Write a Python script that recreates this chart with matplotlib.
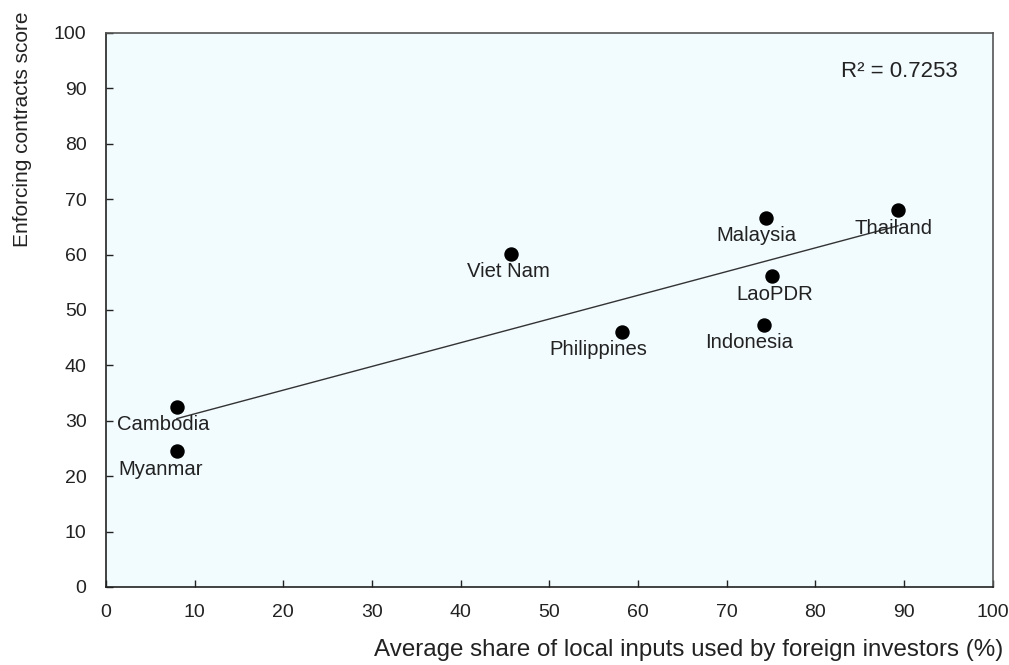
import numpy as np
import matplotlib
matplotlib.use("Agg")
import matplotlib.pyplot as plt

plt.rcParams['font.family'] = ['Liberation Sans', 'DejaVu Sans']

# data
countries = ['Cambodia', 'Myanmar', 'Viet Nam', 'Philippines',
             'Malaysia', 'Thailand', 'LaoPDR', 'Indonesia']
local_inputs = [8.0, 8.0, 45.7, 58.2, 74.4, 89.3, 75.1, 74.2]
contracts_score = [32.5, 24.5, 60.1, 46.0, 66.6, 68.0, 56.1, 47.3]
r2_text = 'R² = 0.7253'

# label offsets (points) relative to each marker
offsets = {
    'Cambodia': (-10, -6), 'Myanmar': (-12, -6), 'Viet Nam': (-2, -6),
    'Philippines': (-17, -6), 'Malaysia': (-7, -6), 'Thailand': (-3, -6),
    'LaoPDR': (2, -6), 'Indonesia': (-11, -6),
}

fig = plt.figure(figsize=(10.09, 6.65), dpi=100)
ax = fig.add_axes([0.105, 0.1173, 0.879, 0.8331])
ax.set_facecolor('#f2fbfe')

x = np.array(local_inputs)
y = np.array(contracts_score)

# linear trend line
coef = np.polyfit(x, y, 1)
xs = np.array([x.min(), x.max()])
ax.plot(xs, np.polyval(coef, xs), color='#333333', lw=1.0, zorder=2)

ax.scatter(x, y, s=88, color='black', zorder=3)

for c, xi, yi in zip(countries, x, y):
    dx, dy = offsets[c]
    ax.annotate(c, (xi, yi), xytext=(dx, dy), textcoords='offset points',
                ha='center', va='top', fontsize=14.6, color='#222222', zorder=4)

ax.text(0.9605, 0.93, r2_text, transform=ax.transAxes, ha='right', va='center',
        fontsize=16, color='#222222')

ax.set_xlim(0, 100)
ax.set_ylim(0, 100)
ax.set_xticks(np.arange(0, 101, 10))
ax.set_yticks(np.arange(0, 101, 10))
ax.tick_params(direction='in', length=5, width=1, labelsize=14, colors='#222222')
ax.tick_params(axis='y', pad=14)
ax.tick_params(axis='x', pad=12)
for s in ['left', 'bottom']:
    ax.spines[s].set_color('#222222')
for s in ['top', 'right']:
    ax.spines[s].set_color('#555555')
for s in ax.spines.values():
    s.set_linewidth(1.2)

fig.text(0.022, 0.982, 'Enforcing contracts score', rotation=90, ha='center',
         va='top', fontsize=15, color='#222222')
fig.text(0.994, 0.022, 'Average share of local inputs used by foreign investors (%)',
         ha='right', va='center', fontsize=17.4, color='#222222')

fig.savefig('out.png', dpi=100)
